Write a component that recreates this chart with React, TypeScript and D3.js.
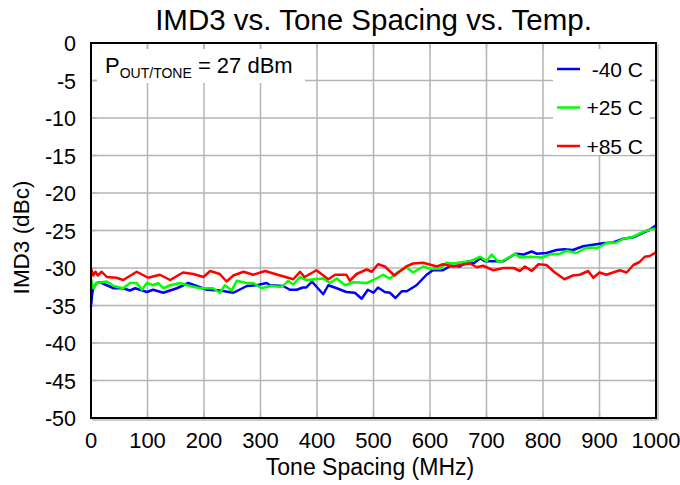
import React from "react";
import * as d3 from "d3";

const xTicks = [0, 100, 200, 300, 400, 500, 600, 700, 800, 900, 1000];
const yTicks = [0, -5, -10, -15, -20, -25, -30, -35, -40, -45, -50];

const seriesNames = ["-40 C", "+25 C", "+85 C"];
const seriesColors = ["#0000ff", "#00ff00", "#ff0000"];

const blueMHz = [0,2,4,10,16,40,57,69,78,99,110,128,152,172,187,205,228,252,276,293,311,317,340,352,364,375,381,391,411,420,435,452,467,479,490,500,508,520,529,539,550,559,576,594,605,623,637,653,668,677,689,697,712,730,751,766,780,789,806,824,838,853,871,889,906,924,942,960,977,989,1000];
const blueDbc = [-35.2,-33.5,-32.7,-32.0,-31.9,-32.7,-32.7,-33.0,-32.7,-33.2,-32.9,-33.3,-32.7,-32.0,-32.4,-32.9,-33.0,-33.3,-32.4,-32.3,-32.0,-32.3,-32.4,-32.9,-32.9,-32.6,-32.6,-31.8,-33.5,-32.3,-32.7,-33.2,-33.3,-34.1,-32.9,-33.3,-32.6,-33.2,-33.3,-34.0,-33.1,-33.1,-32.3,-30.9,-30.3,-30.3,-29.7,-29.8,-29.1,-29.4,-28.7,-29.1,-29.1,-29.1,-28.1,-28.2,-27.8,-28.1,-28.0,-27.6,-27.5,-27.6,-27.1,-26.9,-26.7,-26.6,-26.1,-25.9,-25.3,-24.9,-24.3];

const greenMHz = [0,4,10,28,40,57,69,81,90,99,110,119,128,140,158,175,193,216,228,237,249,258,275,287,302,317,335,340,349,358,370,381,411,423,435,450,464,488,500,517,529,544,558,570,588,600,618,629,641,659,671,689,700,709,721,730,751,759,777,798,812,830,842,859,877,897,912,930,942,957,966,980,995,1000];
const greenDbc = [-31.4,-32.7,-32.0,-31.8,-32.4,-32.7,-32.0,-32.0,-32.9,-32.0,-32.3,-32.0,-32.7,-32.3,-32.0,-32.4,-32.7,-32.7,-33.3,-32.3,-33.0,-31.7,-32.0,-32.0,-32.7,-32.4,-32.5,-32.4,-31.7,-32.2,-31.2,-31.6,-31.4,-32.0,-31.4,-32.3,-31.9,-32.0,-31.6,-30.9,-31.4,-30.5,-29.9,-30.6,-29.8,-30.1,-30.1,-29.3,-29.4,-29.2,-29.1,-28.5,-29.1,-28.2,-29.2,-29.0,-28.1,-28.6,-28.5,-28.6,-28.2,-28.1,-27.7,-28.0,-27.3,-27.3,-26.7,-26.6,-26.1,-25.9,-25.6,-25.1,-24.8,-24.7];

const redMHz = [0,4,8,12,19,28,45,57,81,101,122,140,163,181,199,211,228,240,252,270,287,308,335,358,370,378,399,420,432,452,458,470,488,497,508,520,537,558,570,588,612,623,641,653,671,683,694,712,730,748,759,768,780,792,806,821,838,853,865,880,889,900,912,924,936,948,960,971,980,989,1000];
const redDbc = [-30.0,-31.0,-30.5,-31.0,-30.5,-31.2,-31.3,-31.6,-30.5,-31.3,-30.9,-31.6,-30.6,-30.8,-31.2,-30.4,-30.8,-31.8,-31.0,-30.5,-30.9,-30.4,-31.0,-31.5,-30.5,-31.2,-30.3,-31.5,-30.9,-30.9,-31.7,-30.8,-30.2,-30.5,-29.5,-29.8,-31.0,-29.8,-29.4,-29.3,-29.8,-29.5,-29.8,-29.6,-29.4,-29.9,-29.7,-30.3,-30.0,-30.0,-30.4,-29.8,-30.4,-29.5,-29.6,-30.6,-31.5,-31.0,-30.9,-30.4,-31.3,-30.6,-30.9,-30.6,-30.3,-30.6,-29.6,-29.2,-28.5,-28.4,-27.9];

const seriesX = [blueMHz, greenMHz, redMHz];
const seriesY = [blueDbc, greenDbc, redDbc];

const W = 680, H = 485;
const L = 91, R = 656, T = 43, B = 418;
const FONT = "'Liberation Sans', Arial, Helvetica, sans-serif";

export default function App() {
  const x = d3.scaleLinear().domain([0, 1000]).range([L, R]);
  const y = d3.scaleLinear().domain([-50, 0]).range([B, T]);
  const line = d3.line<[number, number]>().x(d => x(d[0])).y(d => y(d[1]));
  const tick = 6;
  return (
    <svg width={W} height={H} style={{ position: "absolute", left: 0, top: 0, background: "#fff" }} fontFamily={FONT}>
      <rect x={0} y={0} width={W} height={H} fill="#fff" />
      <text x={(L + R) / 2} y={30} textAnchor="middle" fontSize={29.5}>IMD3 vs. Tone Spacing vs. Temp.</text>
      {/* grid */}
      {xTicks.map(t => (
        <line key={"gx" + t} x1={x(t)} x2={x(t)} y1={T} y2={B} stroke="#b4b4b4" strokeWidth={1.5} />
      ))}
      {yTicks.map(t => (
        <line key={"gy" + t} x1={L} x2={R} y1={y(t)} y2={y(t)} stroke="#b4b4b4" strokeWidth={1.5} />
      ))}
      {/* series */}
      {seriesX.map((xs, i) => (
        <path key={"s" + i} d={line(xs.map((v, j) => [v, seriesY[i][j]]) as [number, number][]) || ""}
          fill="none" stroke={seriesColors[i]} strokeWidth={2.5} strokeLinejoin="round" />
      ))}
      {/* annotation boxes */}
      <rect x={97} y={49} width={208} height={34} fill="#fff" />
      <rect x={553} y={49} width={97} height={106} fill="#fff" />
      {/* tick stubs */}
      {xTicks.map(t => (
        <g key={"tx" + t}>
          <line x1={x(t)} x2={x(t)} y1={T} y2={T + tick} stroke="#b4b4b4" strokeWidth={1.5} />
          <line x1={x(t)} x2={x(t)} y1={B} y2={B - tick} stroke="#b4b4b4" strokeWidth={1.5} />
        </g>
      ))}
      {yTicks.map(t => (
        <g key={"ty" + t}>
          <line x1={L} x2={L + tick} y1={y(t)} y2={y(t)} stroke="#b4b4b4" strokeWidth={1.5} />
          <line x1={R} x2={R - tick} y1={y(t)} y2={y(t)} stroke="#b4b4b4" strokeWidth={1.5} />
        </g>
      ))}
      {/* annotation text */}
      <text x={105} y={73} fontSize={22}>
        P<tspan fontSize={14} dy={5}>OUT/TONE</tspan><tspan dy={-5} fontSize={22}> = 27 dBm</tspan>
      </text>
      {/* legend */}
      {seriesNames.map((n, i) => (
        <g key={"lg" + i}>
          <line x1={557} x2={580} y1={69 + i * 38.5} y2={69 + i * 38.5} stroke={seriesColors[i]} strokeWidth={2.5} />
          <text x={643} y={69 + i * 38.5 + 7.5} textAnchor="end" fontSize={21}>{n}</text>
        </g>
      ))}
      {/* frame */}
      <line x1={L + 1} x2={R + 2} y1={B + 2} y2={B + 2} stroke="#999" strokeWidth={1} />
      <line x1={R + 2} x2={R + 2} y1={T + 1} y2={B + 2} stroke="#999" strokeWidth={1} />
      <rect x={L} y={T} width={R - L} height={B - T} fill="none" stroke="#000" strokeWidth={2} />
      {/* y tick labels */}
      {yTicks.map(t => (
        <text key={"yl" + t} x={76} y={y(t) + 8} textAnchor="end" fontSize={21.5}>{t}</text>
      ))}
      {xTicks.map(t => (
        <text key={"xl" + t} x={x(t)} y={448} textAnchor="middle" fontSize={22}>{t}</text>
      ))}
      <text x={370} y={475} textAnchor="middle" fontSize={23}>Tone Spacing (MHz)</text>
      <text transform={`translate(29, ${(T + B) / 2 + 7}) rotate(-90)`} textAnchor="middle" fontSize={22.5}>IMD3 (dBc)</text>
    </svg>
  );
}
